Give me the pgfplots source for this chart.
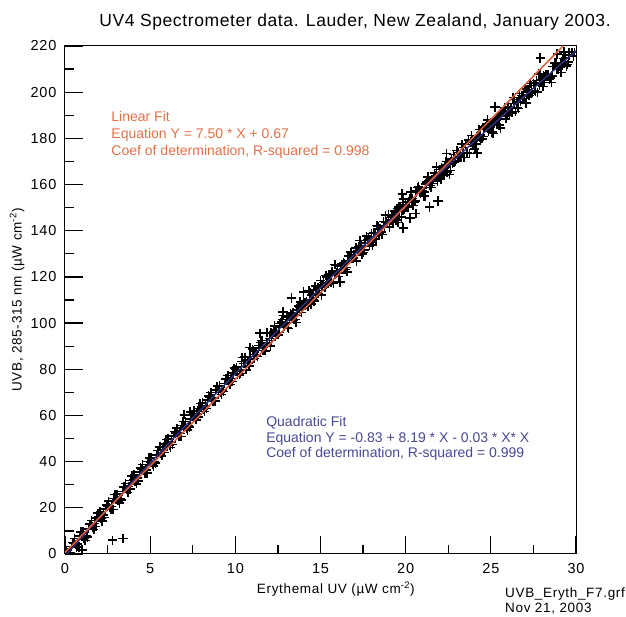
\documentclass[border=0pt]{standalone}
\usepackage{fontspec}
\setmainfont{Liberation Sans}
\usepackage{pgfplots}
\pgfplotsset{compat=1.18}
\definecolor{fitred}{RGB}{222,92,58}
\definecolor{txtred}{RGB}{228,112,72}
\definecolor{fitblue}{RGB}{50,50,135}
\definecolor{txtblue}{RGB}{72,72,150}
\newcommand{\tickfont}{\fontsize{14.5}{16}\selectfont\addfontfeatures{LetterSpace=6}}
\newcommand{\labfont}{\fontsize{13.5}{15}\selectfont\addfontfeatures{LetterSpace=5}}
\begin{document}
\begin{tikzpicture}
\path[use as bounding box] (-65pt,-63pt) rectangle (561pt,554pt);
\begin{axis}[
  at={(0pt,0pt)}, anchor=origin,
  scale only axis, width=511pt, height=508pt,
  xmin=0, xmax=30, ymin=0, ymax=220,
  xtick={0,5,...,30}, ytick={0,20,...,220},
  minor x tick num=1, minor y tick num=1,
  xtick pos=left, ytick pos=left,
  tick align=inside,
  major tick length=18pt, minor tick length=9pt,
  major tick style={draw=black, line width=1.2pt},
  minor tick style={draw=black, line width=1.2pt},
  axis line style={black, line width=1pt},
  clip marker paths=true,
  unbounded coords=jump,
  /pgf/number format/assume math mode=true,
  ticklabel style={font=\tickfont},
  xticklabel style={yshift=-6pt},
  yticklabel style={xshift=-5pt},
  xlabel={Erythemal UV (µW cm\textsuperscript{-2})},
  xlabel style={font=\labfont, at={(rel axis cs:0.53,0)}, anchor=base, yshift=-40pt},
  ylabel={UVB, 285-315 nm (µW cm\textsuperscript{-2})},
  ylabel style={font=\labfont, at={(rel axis cs:0,0.5)}, anchor=center, yshift=48pt},
]
% tick marks (inside)
\addplot[black, line width=1.2pt, forget plot] coordinates {
(5,0) (5,7.8) (nan,nan) (10,0) (10,7.8) (nan,nan) (15,0) (15,7.8) (nan,nan)
(20,0) (20,7.8) (nan,nan) (25,0) (25,7.8) (nan,nan)
(2.5,0) (2.5,3.9) (nan,nan) (7.5,0) (7.5,3.9) (nan,nan) (12.5,0) (12.5,3.9) (nan,nan)
(17.5,0) (17.5,3.9) (nan,nan) (22.5,0) (22.5,3.9) (nan,nan) (27.5,0) (27.5,3.9) (nan,nan)
(0,20) (1.057,20) (nan,nan) (0,40) (1.057,40) (nan,nan) (0,60) (1.057,60) (nan,nan)
(0,80) (1.057,80) (nan,nan) (0,100) (1.057,100) (nan,nan) (0,120) (1.057,120) (nan,nan)
(0,140) (1.057,140) (nan,nan) (0,160) (1.057,160) (nan,nan) (0,180) (1.057,180) (nan,nan)
(0,200) (1.057,200) (nan,nan)
(0,10) (0.53,10) (nan,nan) (0,30) (0.53,30) (nan,nan) (0,50) (0.53,50) (nan,nan)
(0,70) (0.53,70) (nan,nan) (0,90) (0.53,90) (nan,nan) (0,110) (0.53,110) (nan,nan)
(0,130) (0.53,130) (nan,nan) (0,150) (0.53,150) (nan,nan) (0,170) (0.53,170) (nan,nan)
(0,190) (0.53,190) (nan,nan) (0,210) (0.53,210)
};
% data
\addplot[only marks, mark=+, mark size=4.6pt, mark options={line width=1.55pt, black}] coordinates {
(0.05,0.3) (0.25,0.6) (0.5,4.5) (0.75,4.3) (1,7.6) (1.25,8.0) (1.5,12.9) (1.75,13.2)
(2,16.2) (2.25,16.9) (2.5,20.7) (2.75,20.5) (3,23.8) (3.25,24.1) (3.5,29.0) (3.75,29.3)
(4,32.3) (4.25,32.8) (4.5,36.6) (4.75,36.4) (5,39.7) (5.25,39.9) (5.5,44.8) (5.75,45.1)
(6,48.0) (6.25,48.6) (6.5,52.3) (6.75,52.1) (7,55.3) (7.25,55.6) (7.5,60.4) (7.75,60.6)
(8,63.6) (8.25,64.1) (8.5,67.8) (8.75,67.5) (9,70.8) (9.25,71.0) (9.5,75.8) (9.75,76.0)
(0.125,0.3) (0.375,3.2) (0.625,4.0) (0.875,7.9) (1.125,6.8) (1.375,10.9) (1.625,11.7) (1.875,15.7)
(2.125,15.3) (2.375,19.5) (2.625,20.2) (2.875,24.1) (3.125,23.0) (3.375,27.0) (3.625,27.8) (3.875,31.8)
(4.125,31.4) (4.375,35.4) (4.625,36.1) (4.875,40.0) (5.125,38.9) (5.375,42.8) (5.625,43.6) (5.875,47.6)
(6.125,47.1) (6.375,51.2) (6.625,51.8) (6.875,55.7) (7.125,54.5) (7.375,58.4) (7.625,59.2) (7.875,63.1)
(8.125,62.6) (8.375,66.7) (8.625,67.3) (8.875,71.1) (9.125,69.9) (9.375,73.8) (9.625,74.5) (9.875,78.4)
(0.0625,1.5) (0.3125,0.4) (0.5625,6.7) (0.8125,3.0) (1.0625,9.7) (1.3125,7.4) (1.5625,14.5) (1.8125,12.0)
(2.0625,18.3) (2.3125,15.8) (2.5625,22.9) (2.8125,19.2) (3.0625,25.9) (3.3125,23.5) (3.5625,30.6) (3.8125,28.1)
(4.0625,34.4) (4.3125,31.7) (4.5625,38.8) (4.8125,35.1) (5.0625,41.8) (5.3125,39.3) (5.5625,46.4) (5.8125,43.9)
(6.0625,50.1) (6.3125,47.5) (6.5625,54.5) (6.8125,50.8) (7.0625,57.4) (7.3125,55.0) (7.5625,62.0) (7.8125,59.4)
(8.0625,65.7) (8.3125,63.0) (8.5625,70.0) (8.8125,66.2) (9.0625,72.8) (9.3125,70.3) (9.5625,77.3) (9.8125,74.7)
(10.0625,80.9) (10.3125,78.2) (10.5625,85.2) (10.8125,81.4) (11.0625,88.0) (11.3125,85.5) (11.5625,92.5) (11.8125,89.8)
(0.1875,0.5) (0.4375,5.0) (0.6875,3.0) (0.9375,9.5) (1.1875,5.9) (1.4375,12.9) (1.6875,10.6) (1.9375,17.7)
(2.1875,14.3) (2.4375,21.3) (2.6875,19.2) (2.9375,25.7) (3.1875,22.1) (3.4375,29.0) (3.6875,26.7) (3.9375,33.8)
(4.1875,30.4) (4.4375,37.2) (4.6875,35.1) (4.9375,41.6) (5.1875,38.0) (5.4375,44.8) (5.6875,42.5) (5.9375,49.6)
(6.1875,46.1) (6.4375,53.0) (6.6875,50.8) (6.9375,57.3) (7.1875,53.6) (7.4375,60.5) (7.6875,58.1) (7.9375,65.1)
(8.1875,61.7) (8.4375,68.5) (8.6875,66.3) (8.9375,72.7) (9.1875,69.1) (9.4375,75.9) (9.6875,73.5) (9.9375,80.5)
(10,79.9) (10.25,77.6) (10.5,82.5) (10.75,82.8) (11,88.7) (11.25,85.9) (11.5,91.6) (11.75,88.0)
(12,93.3) (12.25,96.2) (12.5,94.9) (12.75,101.5) (13,100.1) (13.25,103.9) (13.5,101.6) (13.75,107.0)
(14,109.8) (14.25,107.4) (14.5,112.2) (14.75,112.5) (15,118.4) (15.25,115.5) (15.5,121.1) (15.75,117.4)
(16,122.7) (16.25,125.5) (16.5,124.1) (16.75,130.7) (17,129.2) (17.25,133.0) (17.5,130.6) (17.75,136.0)
(18,138.7) (18.25,136.2) (18.5,141.0) (18.75,141.3) (19,147.1) (19.25,144.1) (19.5,149.7) (19.75,145.9)
(20,151.2) (20.25,153.9) (20.5,152.5) (20.75,159.0) (21,157.4) (21.25,161.2) (21.5,158.7) (21.75,164.0)
(22,166.6) (22.25,164.1) (22.5,168.9) (22.75,169.1) (23,174.8) (23.25,171.8) (23.5,177.3) (23.75,173.5)
(24,178.7) (24.25,181.3) (24.5,179.8) (24.75,186.3) (25,184.7) (25.25,188.3) (25.5,185.8) (25.75,191.1)
(26,193.6) (26.25,191.1) (26.5,195.7) (26.75,195.9) (27,201.5) (27.25,198.5) (27.5,203.9) (27.75,200.0)
(28,205.2) (28.25,207.8) (28.5,206.2) (28.75,212.6) (29,211.0) (29.25,214.6) (29.5,212.0) (29.75,217.2)
(10.125,77.8) (10.375,83.4) (10.625,79.8) (10.875,85.5) (11.125,86.3) (11.375,90.3) (11.625,88.1) (11.875,95.8)
(12.125,92.4) (12.375,96.3) (12.625,99.9) (12.875,98.8) (13.125,97.7) (13.375,104.4) (13.625,105.7) (13.875,104.5)
(14.125,107.7) (14.375,113.2) (14.625,109.5) (14.875,115.2) (15.125,115.9) (15.375,119.9) (15.625,117.6) (15.875,125.2)
(16.125,121.7) (16.375,125.6) (16.625,129.1) (16.875,128.0) (17.125,126.8) (17.375,133.5) (17.625,134.7) (17.875,133.5)
(18.125,136.6) (18.375,142.0) (18.625,138.3) (18.875,143.9) (19.125,144.5) (19.375,148.5) (19.625,146.1) (19.875,153.7)
(20.125,150.1) (20.375,154.0) (20.625,157.4) (20.875,156.3) (21.125,155.0) (21.375,161.6) (21.625,162.8) (21.875,161.5)
(22.125,164.5) (22.375,169.9) (22.625,166.1) (22.875,171.6) (23.125,172.2) (23.375,176.1) (23.625,173.7) (23.875,181.2)
(24.125,177.6) (24.375,181.4) (24.625,184.8) (24.875,183.5) (25.125,182.2) (25.375,188.8) (25.625,189.8) (25.875,188.5)
(26.125,191.5) (26.375,196.8) (26.625,193.0) (26.875,198.4) (27.125,199.0) (27.375,202.8) (27.625,200.3) (27.875,207.8)
(28.125,204.1) (28.375,207.8) (28.625,211.1) (28.875,209.8) (29.125,208.5) (29.375,215.0) (29.625,216.0)
(12.0625,90.0) (12.3125,98.7) (12.5625,95.9) (12.8125,103.3) (13.0625,98.1) (13.3125,103.6) (13.5625,100.3) (13.8125,109.2)
(14.0625,107.5) (14.3125,113.9) (14.5625,110.0) (14.8125,115.2) (15.0625,112.1) (15.3125,120.7) (15.5625,118.0) (15.8125,125.3)
(16.0625,120.1) (16.3125,125.5) (16.5625,122.2) (16.8125,131.0) (17.0625,129.3) (17.3125,135.7) (17.5625,131.7) (17.8125,136.8)
(18.0625,133.7) (18.3125,142.3) (18.5625,139.5) (18.8125,146.7) (19.0625,141.5) (19.3125,146.9) (19.5625,143.5) (19.8125,152.3)
(20.0625,150.5) (20.3125,156.8) (20.5625,152.8) (20.8125,157.9) (21.0625,154.8) (21.3125,163.3) (21.5625,160.4) (21.8125,167.6)
(22.0625,162.4) (22.3125,167.7) (22.5625,164.3) (22.8125,173.0) (23.0625,171.2) (23.3125,177.5) (23.5625,173.4) (23.8125,178.5)
(24.0625,175.3) (24.3125,183.8) (24.5625,180.8) (24.8125,188.0) (25.0625,182.7) (25.3125,188.0) (25.5625,184.5) (25.8125,193.2)
(26.0625,191.3) (26.3125,197.6) (26.5625,193.4) (26.8125,198.5) (27.0625,195.2) (27.3125,203.7) (27.5625,200.7) (27.8125,207.9)
(28.0625,202.5) (28.3125,207.7) (28.5625,204.2) (28.8125,212.8) (29.0625,211.0) (29.3125,217.2) (29.5625,213.0)
(12.1875,95.5) (12.4375,94.9) (12.6875,100.4) (12.9375,99.7) (13.1875,102.6) (13.4375,101.4) (13.6875,107.3) (13.9375,106.4)
(14.1875,109.4) (14.4375,108.2) (14.6875,116.0) (14.9375,114.1) (15.1875,117.6) (15.4375,117.0) (15.6875,122.5) (15.9375,121.7)
(16.1875,124.5) (16.4375,123.3) (16.6875,129.2) (16.9375,128.2) (17.1875,131.2) (17.4375,129.9) (17.6875,137.6) (17.9375,135.7)
(18.1875,139.2) (18.4375,138.5) (18.6875,143.9) (18.9375,143.1) (19.1875,145.9) (19.4375,144.6) (19.6875,150.5) (19.9375,149.4)
(20.1875,152.4) (20.4375,151.0) (20.6875,158.8) (20.9375,156.8) (21.1875,160.2) (21.4375,159.5) (21.6875,164.9) (21.9375,164.0)
(22.1875,166.7) (22.4375,165.4) (22.6875,171.2) (22.9375,170.2) (23.1875,173.1) (23.4375,171.7) (23.6875,179.3) (23.9375,177.3)
(24.1875,180.7) (24.4375,179.9) (24.6875,185.3) (24.9375,184.4) (25.1875,187.0) (25.4375,185.7) (25.6875,191.5) (25.9375,190.3)
(26.1875,193.2) (26.4375,191.7) (26.6875,199.4) (26.9375,197.3) (27.1875,200.7) (27.4375,199.8) (27.6875,205.1) (27.9375,204.2)
(28.1875,206.8) (28.4375,205.4) (28.6875,211.1) (28.9375,210.0) (29.1875,212.8) (29.4375,211.3)
(10.1,79.3) (10.35,79.7) (10.6,84.0) (10.85,84.3) (11.1,84.6) (11.35,89.2) (11.6,90.2) (11.85,91.4)
(12.1,95.9) (12.35,94.4) (12.6,98.1) (12.85,98.5) (13.1,102.7) (13.35,103.0) (13.6,103.2) (13.85,107.8)
(14.1,108.8) (14.35,109.9) (14.6,114.4) (14.85,112.9) (15.1,116.5) (15.35,116.8) (15.6,121.0) (15.85,121.2)
(16.1,121.5) (16.35,126.0) (16.6,127.0) (16.85,128.1) (17.1,132.5) (17.35,130.9) (17.6,134.5) (17.85,134.8)
(18.1,139.0) (18.35,139.2) (18.6,139.3) (18.85,143.8) (19.1,144.8) (19.35,145.8) (19.6,150.2) (19.85,148.6)
(20.1,152.2) (20.35,152.4) (20.6,156.5) (20.85,156.7) (21.1,156.8) (21.35,161.2) (21.6,162.2) (21.85,163.2)
(22.1,167.5) (22.35,165.9) (22.6,169.4) (22.85,169.6) (23.1,173.8) (23.35,173.9) (23.6,173.9) (23.85,178.3)
(24.1,179.2) (24.35,180.2) (24.6,184.5) (24.85,182.9) (25.1,186.3) (25.35,186.5) (25.6,190.6) (25.85,190.6)
(26.1,190.7) (26.35,195.0) (26.6,195.9) (26.85,196.8) (27.1,201.1) (27.35,199.4) (27.6,202.9) (27.85,203.0)
(28.1,207.0) (28.35,207.0) (28.6,207.1) (28.85,211.4) (29.1,212.2) (29.35,213.1) (29.6,217.3) (29.85,215.6)
(1.0,1.8) (2.8,6.0) (3.4,6.8) (7.0,60.3) (7.35,61.6) (10.4,85.0) (10.85,89.5) (11.45,95.6)
(12.8,104.8) (13.3,110.9) (14.0,113.5) (16.15,117.8) (19.8,156.0) (22.4,173.5)
(19.85,141.2) (20.26,145.5) (20.6,147.5) (21.4,150.3) (21.9,152.9) (24.2,173.7)
(25.25,193.6) (27.9,214.8) (28.9,216.5) (29.3,217.5) (29.9,217.3)
};
% quadratic fit
\addplot[fitblue, line width=1.3pt] coordinates {
(0,-0.83) (2,15.43) (4,31.45) (6,47.23) (8,62.77) (10,78.07) (12,93.13) (14,107.95)
(16,122.53) (18,136.87) (20,150.97) (22,164.83) (24,178.45) (26,191.83) (28,204.97) (30,217.87)
};
% linear fit
\addplot[fitred, line width=1.5pt] coordinates {(0,0.67) (29.24,220)};
\node[anchor=base west, txtred, font=\fontsize{14}{16}\selectfont] at (axis cs:2.52,187.1) {Linear Fit};
\node[anchor=base west, txtred, font=\fontsize{14}{16}\selectfont] at (axis cs:2.52,179.9) {Equation Y = 7.50 * X + 0.67};
\node[anchor=base west, txtred, font=\fontsize{14}{16}\selectfont] at (axis cs:2.52,172.4) {Coef of determination, R-squared = 0.998};
\node[anchor=base west, txtblue, font=\fontsize{14}{16}\selectfont] at (axis cs:11.61,55.0) {Quadratic Fit};
\node[anchor=base west, txtblue, font=\fontsize{14}{16}\selectfont] at (axis cs:11.61,48.1) {Equation Y = -0.83 + 8.19 * X - 0.03 * X* X};
\node[anchor=base west, txtblue, font=\fontsize{14}{16}\selectfont] at (axis cs:11.61,41.6) {Coef of determination, R-squared = 0.999};
\end{axis}
\node[anchor=base, font=\fontsize{17.5}{20}\selectfont\addfontfeatures{LetterSpace=3.5}, inner sep=0pt] at (290pt,527pt) {UV4 Spectrometer data. Lauder, New Zealand, January 2003.};
\node[anchor=base west, font=\fontsize{13.5}{15}\selectfont\addfontfeatures{LetterSpace=5}, inner sep=0pt] at (440pt,-44pt) {UVB\_Eryth\_F7.grf};
\node[anchor=base west, font=\fontsize{13.5}{15}\selectfont\addfontfeatures{LetterSpace=5}, inner sep=0pt] at (440pt,-59pt) {Nov 21, 2003};
\end{tikzpicture}
\end{document}
